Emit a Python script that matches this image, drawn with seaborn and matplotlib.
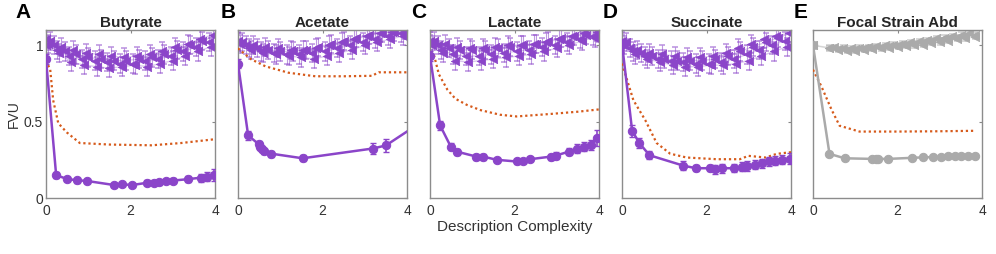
import numpy as np
import matplotlib
matplotlib.use("Agg")
import matplotlib.pyplot as plt
import seaborn as sns

sns.set_theme(style="white")
plt.rcParams["font.family"] = ["Liberation Sans", "DejaVu Sans"]

PURPLE = "#8B45C9"
ORANGE = "#D65A1B"
GRAY = "#AAAAAA"
TXT = "#333333"

# ---- panel titles / letters
titles = ["Butyrate", "Acetate", "Lactate", "Succinate", "Focal Strain Abd"]
letters = ["A", "B", "C", "D", "E"]

# ---- best model curves (solid line + circles)
A_x = [0, 0.24, 0.49, 0.73, 0.96, 1.61, 1.79, 2.04, 2.40, 2.56, 2.68, 2.84, 3.0, 3.35, 3.66, 3.82, 3.98]
A_y = [0.91, 0.15, 0.125, 0.116, 0.112, 0.085, 0.09, 0.085, 0.10, 0.10, 0.103, 0.11, 0.114, 0.123, 0.133, 0.14, 0.149]
A_err = [0.03, 0.02, 0.015, 0.015, 0.015, 0.012, 0.012, 0.012, 0.015, 0.015, 0.015, 0.015, 0.015, 0.02, 0.025, 0.03, 0.04]

B_x = [0, 0.24, 0.49, 0.53, 0.57, 0.62, 0.77, 1.53, 3.19, 3.5, 4.3]
B_y = [0.88, 0.41, 0.352, 0.337, 0.322, 0.307, 0.291, 0.26, 0.324, 0.344, 0.49]
B_err = [0.03, 0.03, 0.02, 0.02, 0.02, 0.02, 0.02, 0.02, 0.035, 0.04, 0.03]

C_x = [0, 0.24, 0.49, 0.63, 1.10, 1.26, 1.58, 2.05, 2.19, 2.37, 2.86, 2.98, 3.29, 3.47, 3.65, 3.80, 3.96]
C_y = [0.93, 0.475, 0.337, 0.304, 0.271, 0.271, 0.25, 0.239, 0.243, 0.254, 0.271, 0.278, 0.304, 0.322, 0.337, 0.348, 0.392]
C_err = [0.03, 0.03, 0.025, 0.02, 0.02, 0.02, 0.015, 0.015, 0.015, 0.015, 0.02, 0.02, 0.025, 0.03, 0.03, 0.035, 0.05]

D_x = [0, 0.24, 0.41, 0.65, 1.45, 1.75, 2.08, 2.2, 2.36, 2.65, 2.83, 2.95, 3.15, 3.31, 3.47, 3.63, 3.78, 3.98]
D_y = [1.01, 0.44, 0.36, 0.28, 0.212, 0.195, 0.195, 0.188, 0.195, 0.195, 0.206, 0.21, 0.217, 0.228, 0.239, 0.243, 0.25, 0.258]
D_err = [0.03, 0.04, 0.03, 0.025, 0.03, 0.02, 0.02, 0.03, 0.03, 0.025, 0.03, 0.03, 0.03, 0.03, 0.03, 0.03, 0.03, 0.035]

E_x = [0, 0.39, 0.75, 1.4, 1.5, 1.55, 1.78, 2.34, 2.6, 2.84, 3.04, 3.2, 3.36, 3.51, 3.67, 3.83]
E_y = [1.0, 0.289, 0.26, 0.256, 0.256, 0.256, 0.256, 0.263, 0.266, 0.268, 0.27, 0.272, 0.274, 0.275, 0.277, 0.278]
E_err = [0.02, 0.015, 0.01, 0.01, 0.01, 0.01, 0.015, 0.01, 0.01, 0.01, 0.01, 0.01, 0.01, 0.01, 0.01, 0.01]

# ---- reference curves (orange dotted)
Ad_x = [0, 0.1, 0.17, 0.29, 0.49, 0.8, 1.5, 2.5, 3.2, 4.0]
Ad_y = [0.9, 0.84, 0.64, 0.49, 0.43, 0.36, 0.35, 0.345, 0.36, 0.385]
Bd_x = [0, 0.3, 0.65, 1.2, 1.83, 2.5, 3.17, 3.33, 4.0]
Bd_y = [0.98, 0.91, 0.862, 0.82, 0.797, 0.797, 0.80, 0.823, 0.823]
Cd_x = [0, 0.1, 0.21, 0.41, 0.6, 0.87, 1.2, 1.66, 2.05, 2.84, 3.5, 4.0]
Cd_y = [0.96, 0.93, 0.81, 0.71, 0.65, 0.61, 0.575, 0.545, 0.534, 0.55, 0.565, 0.58]
Dd_x = [0, 0.27, 0.55, 0.82, 1.14, 1.53, 2.24, 2.79, 2.99, 3.4, 3.66, 4.0]
Dd_y = [0.88, 0.64, 0.51, 0.36, 0.29, 0.265, 0.254, 0.254, 0.276, 0.265, 0.289, 0.30]
Ed_x = [0, 0.2, 0.44, 0.63, 1.1, 2.0, 3.0, 3.83]
Ed_y = [0.84, 0.73, 0.578, 0.473, 0.435, 0.435, 0.437, 0.44]

# ---- alternative models (faint lines + triangles), 4 runs per metabolite
T1_x = [0, 0.2, 0.45, 0.7, 1.0, 1.3, 1.6, 1.9, 2.2, 2.5, 2.8, 3.1, 3.4, 3.7, 4.0]
T2_x = [0.05, 0.3, 0.6, 0.9, 1.2, 1.5, 1.8, 2.1, 2.4, 2.7, 3.0, 3.3, 3.6, 3.9]
T3_x = [0.1, 0.35, 0.65, 0.95, 1.25, 1.55, 1.85, 2.15, 2.45, 2.75, 3.05, 3.35, 3.65, 3.95]
T4_x = [0, 0.25, 0.55, 0.85, 1.15, 1.45, 1.75, 2.05, 2.35, 2.65, 2.95, 3.25, 3.55, 3.85]

At1 = [1.04, 1.0, 0.96, 0.94, 0.92, 0.91, 0.9, 0.9, 0.91, 0.92, 0.94, 0.97, 1.0, 1.03, 1.06]
At2 = [1.01, 0.95, 0.89, 0.87, 0.86, 0.85, 0.86, 0.87, 0.86, 0.88, 0.9, 0.93, 0.96, 0.99]
At3 = [1.03, 0.99, 0.97, 0.95, 0.94, 0.93, 0.92, 0.93, 0.94, 0.96, 0.99, 1.01, 1.04, 1.07]
At4 = [1.0, 0.97, 0.93, 0.91, 0.9, 0.89, 0.88, 0.88, 0.9, 0.91, 0.93, 0.96, 0.99, 1.02]

Bt1 = [1.03, 1.0, 0.98, 0.97, 0.96, 0.96, 0.97, 0.99, 1.01, 1.03, 1.05, 1.07, 1.08, 1.09, 1.1]
Bt2 = [1.01, 0.97, 0.95, 0.94, 0.93, 0.92, 0.91, 0.93, 0.95, 0.97, 1.0, 1.02, 1.04, 1.06]
Bt3 = [1.02, 1.0, 0.99, 0.98, 0.97, 0.97, 0.98, 1.0, 1.02, 1.04, 1.06, 1.08, 1.09, 1.1]
Bt4 = [1.02, 0.98, 0.96, 0.95, 0.94, 0.94, 0.95, 0.96, 0.98, 1.0, 1.02, 1.04, 1.06, 1.08]

Ct1 = [1.03, 1.0, 0.98, 0.97, 0.97, 0.97, 0.98, 0.99, 1.0, 1.01, 1.03, 1.05, 1.06, 1.07, 1.08]
Ct2 = [1.0, 0.95, 0.9, 0.89, 0.9, 0.91, 0.92, 0.93, 0.94, 0.96, 0.98, 1.0, 1.03, 1.05]
Ct3 = [1.03, 1.01, 0.99, 0.98, 0.98, 0.99, 1.0, 1.0, 1.01, 1.02, 1.04, 1.06, 1.08, 1.09]
Ct4 = [1.01, 0.97, 0.94, 0.93, 0.93, 0.94, 0.95, 0.96, 0.97, 0.99, 1.0, 1.02, 1.04, 1.06]

Dt1 = [1.03, 0.98, 0.95, 0.93, 0.91, 0.9, 0.9, 0.9, 0.91, 0.93, 0.96, 0.99, 1.02, 1.05, 1.08]
Dt2 = [1.0, 0.94, 0.91, 0.89, 0.87, 0.86, 0.86, 0.87, 0.87, 0.88, 0.9, 0.93, 0.96, 0.99]
Dt3 = [1.02, 0.97, 0.95, 0.94, 0.93, 0.92, 0.92, 0.93, 0.95, 0.98, 1.01, 1.04, 1.06, 1.08]
Dt4 = [1.01, 0.96, 0.93, 0.91, 0.9, 0.89, 0.88, 0.88, 0.89, 0.91, 0.94, 0.97, 1.0, 1.03]

Et_x = [0, 0.39, 0.6, 0.8, 1.0, 1.2, 1.4, 1.6, 1.8, 2.0, 2.2, 2.4, 2.6, 2.8, 3.0, 3.2, 3.4, 3.6, 3.83]
Et1 = [1.0, 0.985, 0.975, 0.97, 0.975, 0.98, 0.985, 0.99, 0.995, 1.0, 1.005, 1.01, 1.02, 1.03, 1.035, 1.045, 1.05, 1.06, 1.07]
Et2 = [1.0, 0.98, 0.97, 0.965, 0.965, 0.97, 0.975, 0.98, 0.985, 0.99, 0.995, 1.0, 1.005, 1.015, 1.02, 1.03, 1.04, 1.045, 1.055]
Et3_x = [0.5, 0.7, 0.9, 1.1, 1.3, 1.5, 1.7, 1.9, 2.1, 2.3, 2.5, 2.7, 2.9, 3.1, 3.3, 3.5, 3.7]
Et3 = [0.99, 0.985, 0.98, 0.985, 0.99, 0.995, 1.0, 1.005, 1.01, 1.02, 1.025, 1.035, 1.045, 1.05, 1.06, 1.07, 1.08]

purple_tx = [T1_x, T2_x, T3_x, T4_x]
panels = [
    dict(x=A_x, y=A_y, err=A_err, dx=Ad_x, dy=Ad_y, tx=purple_tx, ts=[At1, At2, At3, At4], col=PURPLE),
    dict(x=B_x, y=B_y, err=B_err, dx=Bd_x, dy=Bd_y, tx=purple_tx, ts=[Bt1, Bt2, Bt3, Bt4], col=PURPLE),
    dict(x=C_x, y=C_y, err=C_err, dx=Cd_x, dy=Cd_y, tx=purple_tx, ts=[Ct1, Ct2, Ct3, Ct4], col=PURPLE),
    dict(x=D_x, y=D_y, err=D_err, dx=Dd_x, dy=Dd_y, tx=purple_tx, ts=[Dt1, Dt2, Dt3, Dt4], col=PURPLE),
    dict(x=E_x, y=E_y, err=E_err, dx=Ed_x, dy=Ed_y, tx=[Et_x, Et_x, Et3_x], ts=[Et1, Et2, Et3], col=GRAY),
]

fig = plt.figure(figsize=(9.96, 2.54), dpi=100)
lefts = [46, 238, 430, 622, 813]
letter_x = [23, 228, 419, 610, 801]

for i, p in enumerate(panels):
    ax = fig.add_axes([lefts[i] / 996, 1 - 198 / 254, 169 / 996, 168 / 254])
    col = p["col"]
    alt_err = 0.015 if col == GRAY else 0.06

    # faint alternative models
    for tx, ty in zip(p["tx"], p["ts"]):
        sns.lineplot(x=tx, y=ty, ax=ax, color=col, alpha=0.3, linewidth=1.0,
                     sort=False, estimator=None, zorder=1)
        ax.errorbar(tx, ty, yerr=alt_err, fmt="none", ecolor=col, alpha=0.55,
                    elinewidth=0.8, capsize=2, capthick=1.2, zorder=1)
        sns.scatterplot(x=tx, y=ty, ax=ax, color=col, marker="<", s=36,
                        edgecolor=col, linewidth=0.5, zorder=2, legend=False)

    # reference (dotted)
    ax.plot(p["dx"], p["dy"], color=ORANGE, linewidth=1.6, dashes=(1.0, 1.3), zorder=3)

    # best model
    ax.errorbar(p["x"], p["y"], yerr=p["err"], fmt="none", ecolor=col,
                elinewidth=1.2, capsize=2, zorder=4)
    sns.lineplot(x=p["x"], y=p["y"], ax=ax, color=col, linewidth=1.8, marker="o",
                 markersize=6, markeredgecolor=col, sort=False, estimator=None, zorder=5)

    ax.set_xlim(0, 4)
    ax.set_ylim(0, 1.1)
    ax.set_xticks([0, 2, 4])
    ax.set_yticks([0, 0.5, 1])
    ax.tick_params(axis="x", pad=4)
    ax.tick_params(axis="y", pad=2)
    ax.tick_params(direction="in", length=2.5, width=0.8, top=True, right=True,
                   colors="#888888", labelcolor=TXT, labelsize=10)
    if i == 0:
        ax.set_yticklabels(["0", "0.5", "1"])
        ax.set_ylabel("FVU", fontsize=10, color=TXT, labelpad=2)
    else:
        ax.set_yticklabels([])
    ax.set_xticklabels(["0", "2", "4"])
    if i == 2:
        ax.set_xlabel("Description Complexity", fontsize=11, color=TXT, labelpad=2)
    for s in ax.spines.values():
        s.set_color("#8c8c8c")
        s.set_linewidth(1.0)
    ax.set_title(titles[i], fontsize=11, fontweight="bold", color="#262626", pad=2)

    fig.text(letter_x[i] / 996, 1 - 12 / 254, letters[i], fontsize=15, fontweight="bold",
             ha="center", va="center", color="black")

fig.savefig("out.png", dpi=100)
